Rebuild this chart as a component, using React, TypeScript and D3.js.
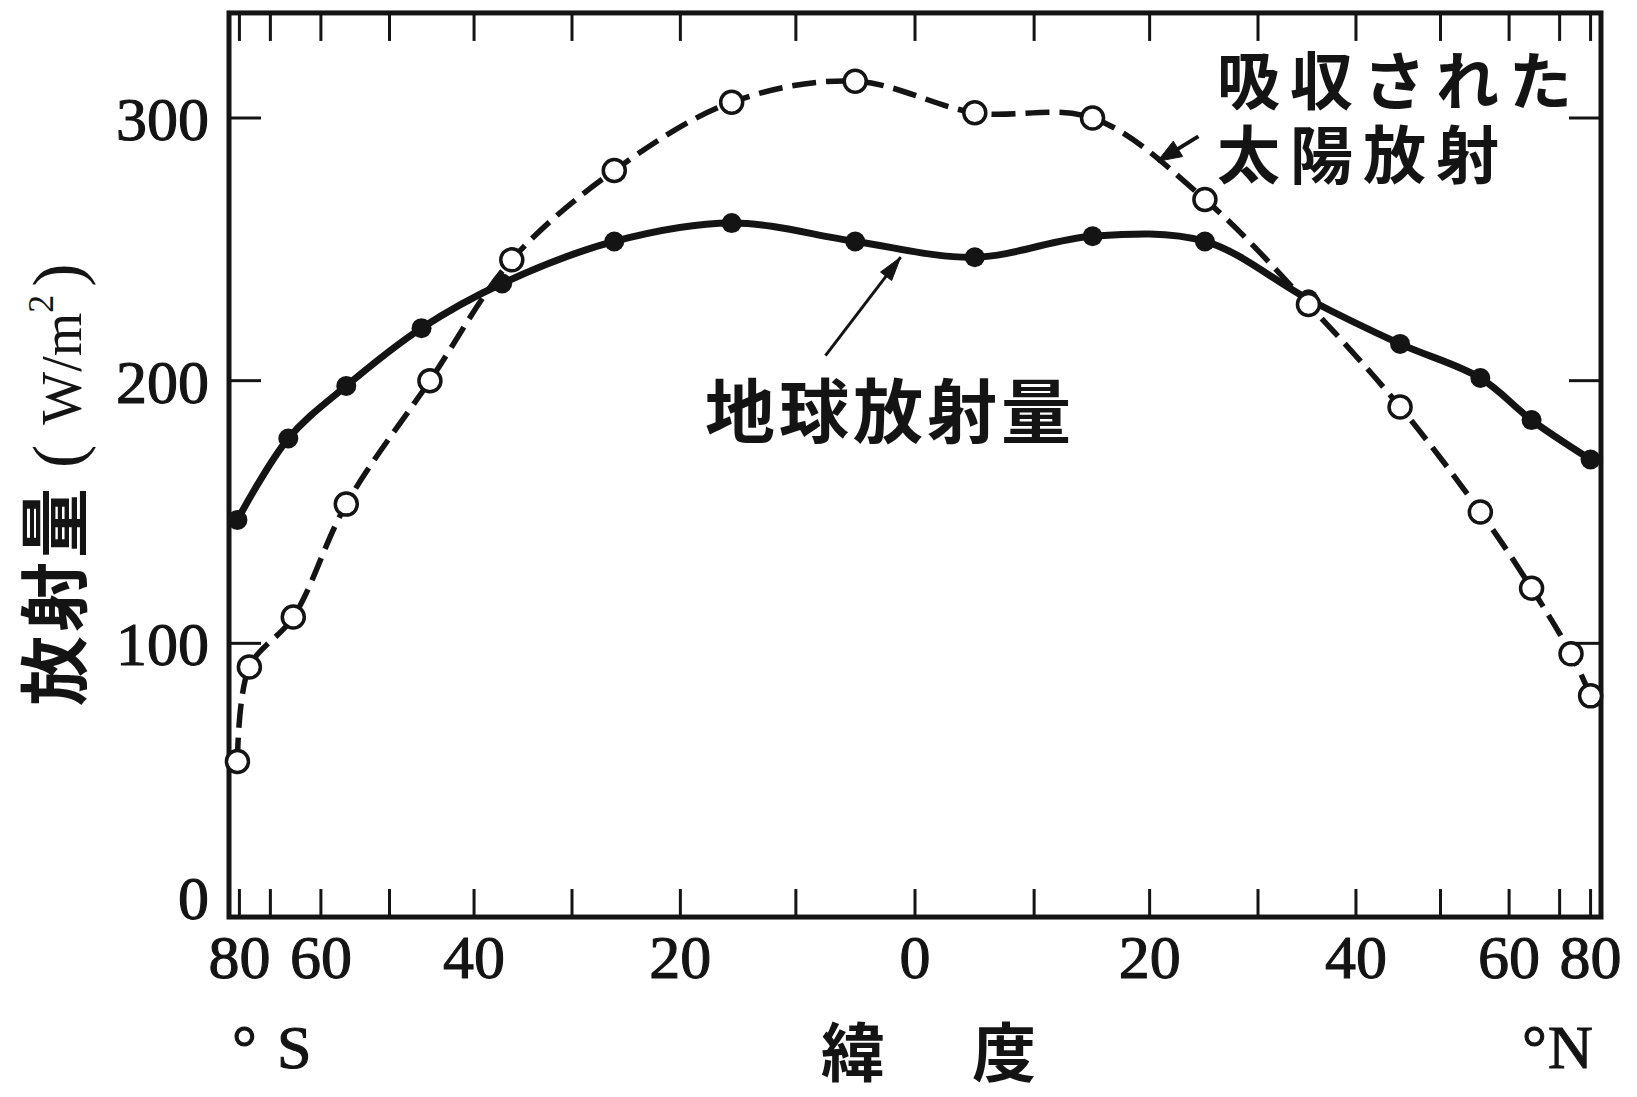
import * as d3 from "d3";

// 緯度（度, 南が負）と放射量（W/m²）
const solarLat = [-81, -76, -65, -56, -45, -36, -26, -15.5, -5, 5, 15, 25, 35, 45, 55.5, 64, 73, 80];
const solarVal = [55, 91, 110, 153, 200, 246, 280, 306, 314, 302, 300, 269, 229, 190, 150, 121, 96, 80];

const earthLat = [-81, -66, -56, -46, -37, -26, -15.5, -5, 5, 15, 25, 35, 45, 55.5, 64, 80];
const earthVal = [147, 178, 198, 220, 237, 253, 260, 253, 247, 255, 253, 231, 214, 201, 185, 170];

const xTickLats = [-80, -70, -60, -50, -40, -30, -20, -10, 0, 10, 20, 30, 40, 50, 60, 70, 80];
const xLabelLats = [-80, -60, -40, -20, 0, 20, 40, 60, 80];
const xLabels = ["80", "60", "40", "20", "0", "20", "40", "60", "80"];
const yTicks = [100, 200, 300];
const yLabels = [0, 100, 200, 300];

const SERIF = "'Liberation Serif', 'DejaVu Serif', serif";
const JP = "'Noto Sans CJK JP', 'Noto Sans', sans-serif";
const INK = "#141414";

function head(x1: number, y1: number, x2: number, y2: number, len: number, w: number) {
  const a = Math.atan2(y2 - y1, x2 - x1);
  const bx = x2 - len * Math.cos(a), by = y2 - len * Math.sin(a);
  const px = -Math.sin(a) * w, py = Math.cos(a) * w;
  return `M${x2},${y2}L${bx + px},${by + py}L${bx - px},${by - py}Z`;
}

export default function App() {
  const width = 1637, height = 1097;

  // 横軸は sin(緯度) に比例（面積重み）
  const xs = d3.scaleLinear().domain([-1, 1]).range([229, 1601]);
  const X = (lat: number) => xs(Math.sin((lat * Math.PI) / 180));
  const Y = d3.scaleLinear().domain([0, 300]).range([906, 118]);

  const left = xs(-1), right = xs(1);
  const top = Y(340), bottom = Y(-4.2);

  const line = d3.line<[number, number]>()
    .x(d => X(d[0]))
    .y(d => Y(d[1]))
    .curve(d3.curveCatmullRom.alpha(0.5));

  const solar = solarLat.map((l, i) => [l, solarVal[i]] as [number, number]);
  const earth = earthLat.map((l, i) => [l, earthVal[i]] as [number, number]);

  // 注記の矢印（データ座標）
  const sArrow = { x1: X(24.4), y1: Y(293), x2: X(20.7), y2: Y(283.5) };
  const eArrow = { x1: X(-7.5), y1: Y(209.5), x2: X(-1.2), y2: Y(247) };

  return (
    <svg width={width} height={height} style={{ position: "absolute", left: 0, top: 0, background: "#fff" }}>
      <rect x={0} y={0} width={width} height={height} fill="#fff" />

      {/* 枠と目盛 */}
      <g stroke={INK} fill="none">
        {xTickLats.map(l => (
          <g key={"t" + l}>
            <line x1={X(l)} x2={X(l)} y1={bottom} y2={bottom - 28} strokeWidth={3} />
            <line x1={X(l)} x2={X(l)} y1={top} y2={top + 28} strokeWidth={3} />
          </g>
        ))}
        {yTicks.map(v => (
          <g key={"y" + v}>
            <line x1={left} x2={left + 32} y1={Y(v)} y2={Y(v)} strokeWidth={3} />
            <line x1={right} x2={right - 32} y1={Y(v)} y2={Y(v)} strokeWidth={3} />
          </g>
        ))}
        <rect x={left} y={top} width={right - left} height={bottom - top} strokeWidth={5} />
      </g>

      {/* 目盛ラベル */}
      <g fill={INK} fontFamily={SERIF} fontSize={62} stroke={INK} strokeWidth={1.1}>
        {yLabels.map(v => (
          <text key={"yl" + v} x={left - 20} y={Y(v) + (v === 0 ? 13 : 22)} textAnchor="end">{v}</text>
        ))}
        {xLabelLats.map((l, i) => (
          <text key={"xl" + i} x={X(l)} y={978} textAnchor="middle">{xLabels[i]}</text>
        ))}
        <text x={232} y={1068}>°</text>
        <text x={277} y={1068}>S</text>
        <text x={1522} y={1068}>°</text>
        <text x={1548} y={1068}>N</text>
      </g>

      {/* 軸タイトル */}
      <text x={X(0) - 94} y={1076} fontFamily={JP} fontWeight={700} fontSize={64} fill={INK} letterSpacing={11.5}>緯　度</text>
      <text transform="translate(81,706) rotate(-90)" fill={INK} fontSize={70}>
        <tspan fontFamily={JP} fontWeight={700} letterSpacing={4}>放射量</tspan>
        <tspan fontFamily={SERIF} dx={16}>(</tspan>
        <tspan fontFamily={SERIF} fontSize={56} dx={20}>W/m</tspan>
        <tspan fontFamily={SERIF} fontSize={36} dy={-28}>2</tspan>
        <tspan fontFamily={SERIF} dy={28} dx={8}>)</tspan>
      </text>

      {/* 吸収された太陽放射（破線・白丸） */}
      <path d={line(solar) || ""} fill="none" stroke={INK} strokeWidth={5.5} strokeDasharray="24 10" />
      {/* 地球放射量（実線・黒丸） */}
      <path d={line(earth) || ""} fill="none" stroke={INK} strokeWidth={7} />
      {earth.map((d, i) => (
        <circle key={"e" + i} cx={X(d[0])} cy={Y(d[1])} r={10} fill={INK} />
      ))}
      {solar.map((d, i) => (
        <circle key={"s" + i} cx={X(d[0])} cy={Y(d[1])} r={11} fill="#fff" stroke={INK} strokeWidth={3.5} />
      ))}

      {/* 注記 */}
      <g fontFamily={JP} fontWeight={700} fill={INK}>
        <text x={1217} y={104} fontSize={63} letterSpacing={10}>
          <tspan x={1217}>吸収された</tspan>
          <tspan x={1217} dy={74}>太陽放射</tspan>
        </text>
        <text x={705} y={438} fontSize={70} letterSpacing={4}>地球放射量</text>
      </g>
      <g stroke={INK} fill={INK}>
        <line x1={sArrow.x1} y1={sArrow.y1} x2={sArrow.x2} y2={sArrow.y2} strokeWidth={4} />
        <path d={head(sArrow.x1, sArrow.y1, sArrow.x2, sArrow.y2, 24, 9)} strokeWidth={1} />
        <line x1={eArrow.x1} y1={eArrow.y1} x2={eArrow.x2} y2={eArrow.y2} strokeWidth={3} />
        <path d={head(eArrow.x1, eArrow.y1, eArrow.x2, eArrow.y2, 24, 7)} strokeWidth={1} />
      </g>
    </svg>
  );
}
